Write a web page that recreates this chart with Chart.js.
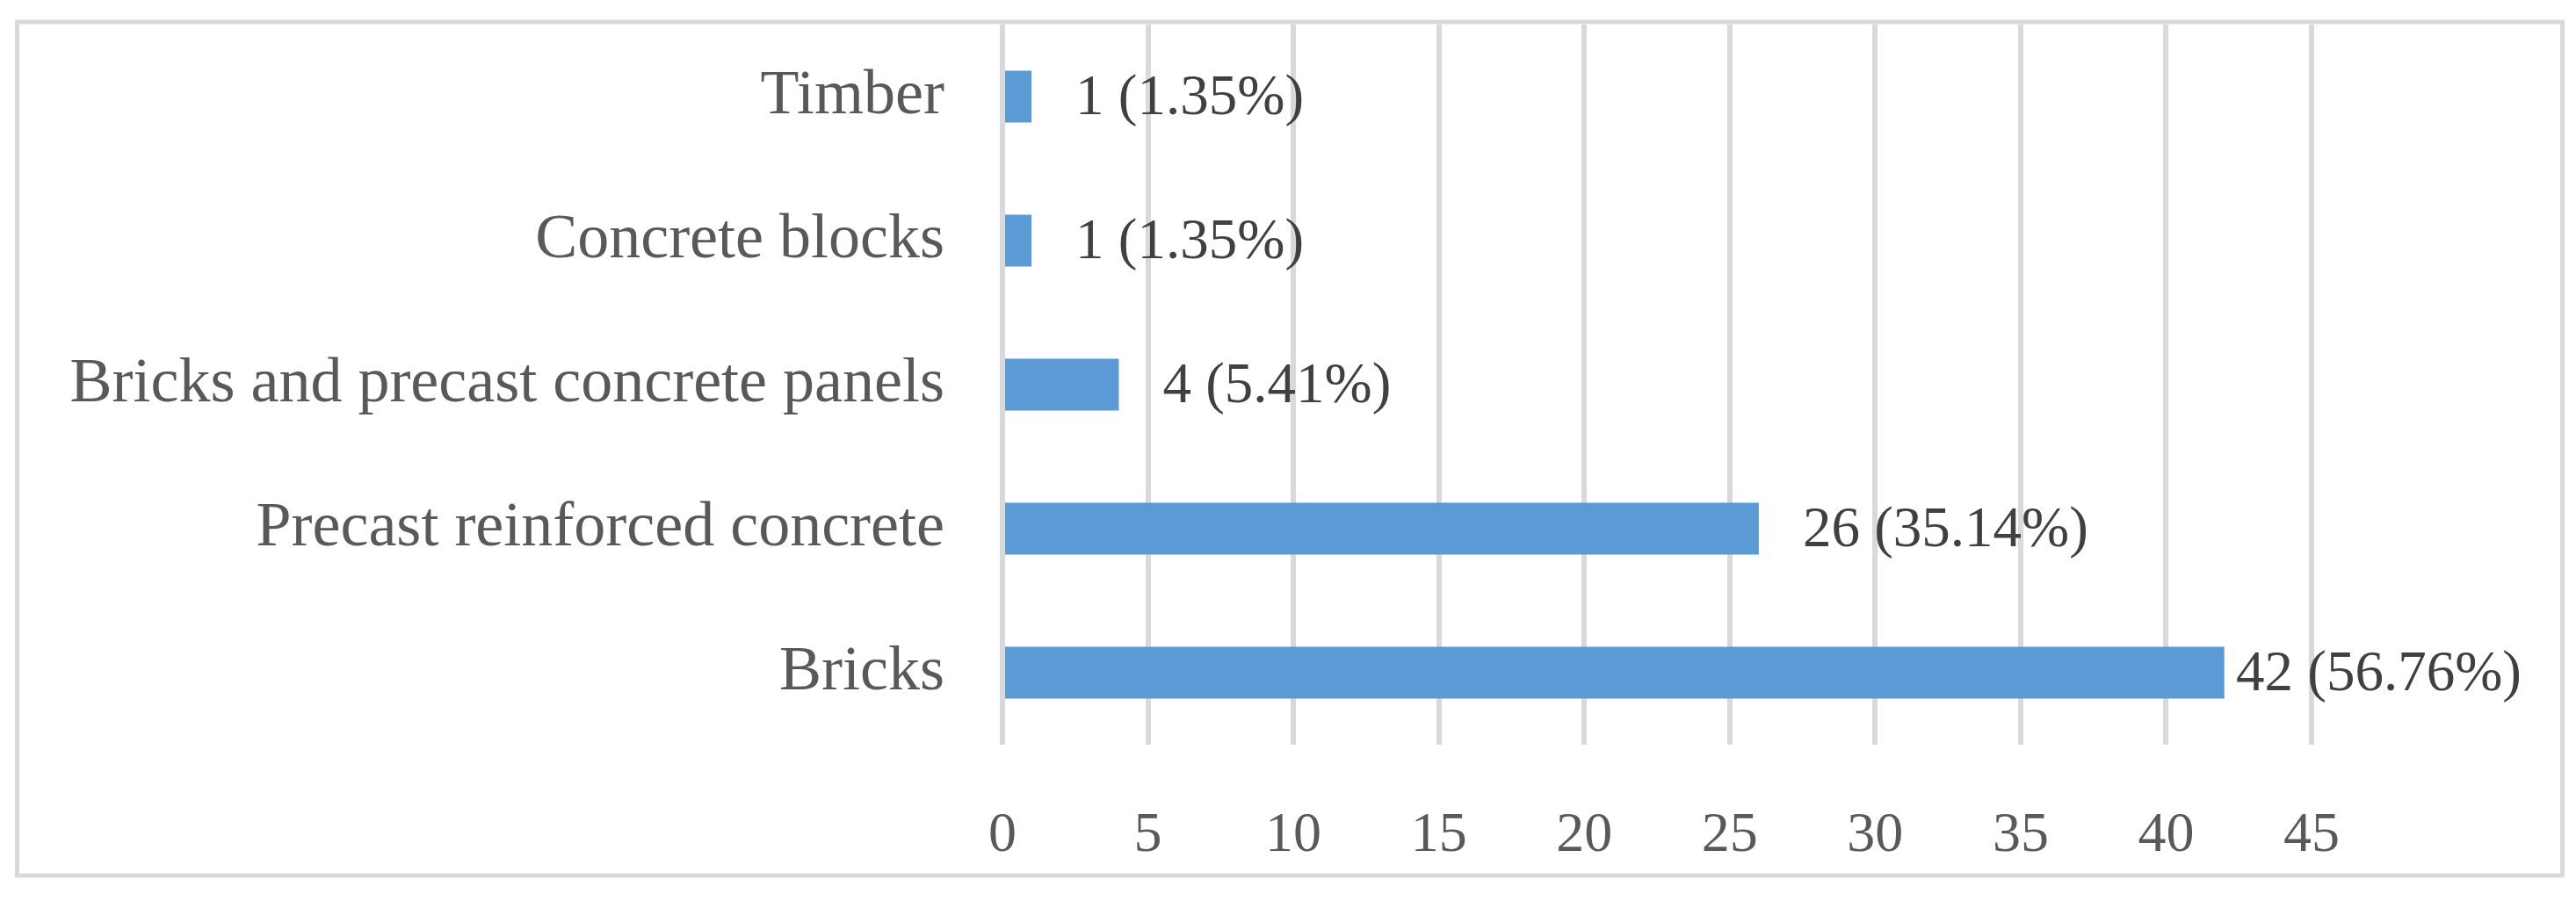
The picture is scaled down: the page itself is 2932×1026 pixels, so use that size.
<!DOCTYPE html>
<html>
<head>
<meta charset="utf-8">
<script src="https://cdn.jsdelivr.net/npm/chart.js@4.4.1/dist/chart.umd.min.js"></script>
<style>
  html, body { margin: 0; padding: 0; background: #ffffff; }
  #wrap { width: 2932px; height: 1026px; position: relative; }
</style>
</head>
<body>
<div id="wrap"><canvas id="c"></canvas></div>
<script>
const categories = ["Timber", "Concrete blocks", "Bricks and precast concrete panels", "Precast reinforced concrete", "Bricks"];
const counts = [1, 1, 4, 26, 42];
const percents = [1.35, 1.35, 5.41, 35.14, 56.76];
const xTicks = [0, 5, 10, 15, 20, 25, 30, 35, 40, 45];

const FONT = "'Liberation Serif', 'Times New Roman', serif";

const frame = {
  id: 'frame',
  beforeDraw(chart) {
    const ctx = chart.ctx;
    ctx.save();
    ctx.fillStyle = '#ffffff';
    ctx.fillRect(0, 0, chart.width, chart.height);
    ctx.strokeStyle = '#d9d9d9';
    ctx.lineWidth = 5;
    ctx.strokeRect(19.5, 25, 2897, 972);
    ctx.restore();
  }
};

const valueLabels = {
  id: 'valueLabels',
  afterDatasetsDraw(chart) {
    const ctx = chart.ctx;
    const meta = chart.getDatasetMeta(0);
    ctx.save();
    ctx.font = "65px " + FONT;
    ctx.fillStyle = '#404040';
    ctx.textBaseline = 'middle';
    ctx.textAlign = 'left';
    const limit = chart.width - 62;
    meta.data.forEach((bar, i) => {
      const txt = counts[i] + ' (' + percents[i].toFixed(2) + '%)';
      const w = ctx.measureText(txt).width;
      let x = bar.x + 50;
      if (x + w > limit) x = Math.max(bar.x + 9, limit - w);
      ctx.fillText(txt, x, bar.y + 3);
    });
    ctx.restore();
  }
};

new Chart(document.getElementById('c'), {
  type: 'bar',
  data: {
    labels: categories,
    datasets: [{
      data: counts,
      backgroundColor: '#5b9bd5',
      borderWidth: 0,
      categoryPercentage: 1.0,
      barPercentage: 0.36
    }]
  },
  options: {
    indexAxis: 'y',
    responsive: true,
    maintainAspectRatio: false,
    animation: false,
    devicePixelRatio: 1,
    layout: { padding: { left: 0, top: 28, right: 301, bottom: 0 } },
    plugins: {
      legend: { display: false },
      tooltip: { enabled: false },
      title: { display: false }
    },
    scales: {
      x: {
        type: 'linear',
        min: 0,
        max: 45,
        afterBuildTicks(scale) { scale.ticks = xTicks.map(v => ({ value: v })); },
        afterFit(scale) {
          scale.height = 178;
          scale.paddingLeft = 0; scale.paddingRight = 0;
          scale.paddingTop = 0; scale.paddingBottom = 0;
        },
        grid: { color: '#d9d9d9', lineWidth: 6, drawTicks: false },
        border: { display: false },
        ticks: {
          padding: 66,
          color: '#595959',
          font: { family: FONT, size: 64 },
          maxRotation: 0,
          autoSkip: false
        }
      },
      y: {
        type: 'category',
        afterFit(scale) {
          scale.width = 1141;
          scale.paddingTop = 0; scale.paddingBottom = 0;
          scale.paddingLeft = 0; scale.paddingRight = 0;
        },
        grid: { display: false, drawTicks: false },
        border: { display: false },
        ticks: {
          padding: 66,
          color: '#595959',
          font: { family: FONT, size: 72 },
          autoSkip: false
        }
      }
    }
  },
  plugins: [frame, valueLabels]
});
</script>
</body>
</html>
